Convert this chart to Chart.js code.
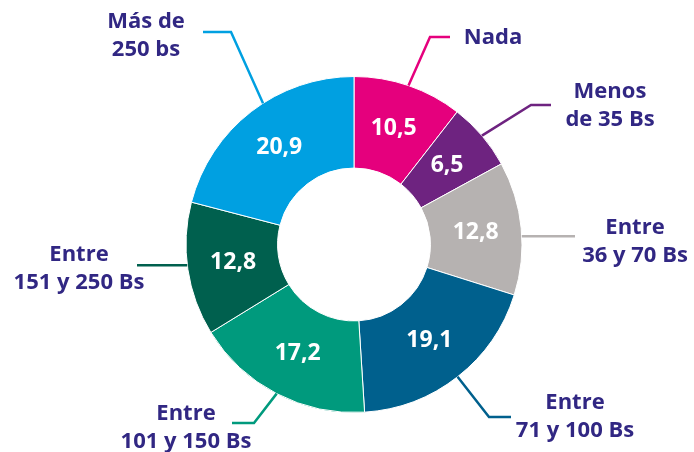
<!DOCTYPE html>
<html>
<head>
<meta charset="utf-8">
<script src="https://cdn.jsdelivr.net/npm/chart.js@4/dist/chart.umd.min.js"></script>
<style>
  html, body { margin: 0; padding: 0; background: #fff; }
  #wrap { width: 694px; height: 452px; }
</style>
</head>
<body>
<div id="wrap"><canvas id="chart" width="694" height="452"></canvas></div>
<script>
// datos del gráfico
const categories = [
  ['Nada'],
  ['Menos', 'de 35 Bs'],
  ['Entre', '36 y 70 Bs'],
  ['Entre', '71 y 100 Bs'],
  ['Entre', '101 y 150 Bs'],
  ['Entre', '151 y 250 Bs'],
  ['Más de', '250 bs']
];
const values = [10.5, 6.5, 12.8, 19.1, 17.2, 12.8, 20.9];
const colors = ['#e5007d', '#6e2380', '#b6b2b1', '#00608d', '#009a7d', '#00604e', '#00a0e1'];

// posiciones de las etiquetas y líneas guía
const labelPos = [
  { x: 493, y: 38 },
  { x: 610, y: 92 },
  { x: 635, y: 228 },
  { x: 575, y: 403 },
  { x: 186, y: 414 },
  { x: 79, y: 255 },
  { x: 146, y: 22 }
];
const leaders = [
  { frac: 0.5, elbow: [430, 37], end: [450, 37] },
  { frac: 0.5, elbow: [531, 105], end: [551, 105] },
  { frac: 0.56, elbow: null, end: [575, null] },
  { frac: 0.5, elbow: [489, 417], end: [511, 417] },
  { frac: 0.5, elbow: [254, 423], end: [232, 423] },
  { frac: 0.53, elbow: null, end: [137, null] },
  { frac: 0.565, elbow: [231, 32], end: [203, 32] }
];

const fmt = v => v.toFixed(1).replace('.', ',');

const labelsPlugin = {
  id: 'labelsPlugin',
  afterDatasetsDraw(chart) {
    const ctx = chart.ctx;
    const arcs = chart.getDatasetMeta(0).data;
    ctx.save();
    arcs.forEach((arc, i) => {
      const { x, y, startAngle, endAngle, innerRadius, outerRadius } = arc.getProps(
        ['x', 'y', 'startAngle', 'endAngle', 'innerRadius', 'outerRadius'], true);
      // valor dentro del segmento
      const mid = (startAngle + endAngle) / 2;
      const r = (innerRadius + outerRadius) / 2;
      ctx.fillStyle = '#ffffff';
      ctx.font = 'bold 23px "Open Sans"';
      ctx.textAlign = 'center';
      ctx.textBaseline = 'middle';
      ctx.fillText(fmt(values[i]), x + Math.cos(mid) * r, y + Math.sin(mid) * r);

      // línea guía
      const ld = leaders[i];
      const a = startAngle + (endAngle - startAngle) * ld.frac;
      const sx = x + Math.cos(a) * outerRadius;
      const sy = y + Math.sin(a) * outerRadius;
      ctx.strokeStyle = colors[i];
      ctx.lineWidth = 2.5;
      ctx.beginPath();
      ctx.moveTo(sx, sy);
      if (ld.elbow) ctx.lineTo(ld.elbow[0], ld.elbow[1]);
      ctx.lineTo(ld.end[0], ld.end[1] === null ? sy : ld.end[1]);
      ctx.stroke();

      // etiqueta de categoría
      ctx.fillStyle = '#312783';
      ctx.font = 'bold 22px "Open Sans"';
      categories[i].forEach((line, k) => {
        ctx.fillText(line, labelPos[i].x, labelPos[i].y + k * 28);
      });
    });
    ctx.restore();
  }
};

new Chart(document.getElementById('chart'), {
  type: 'doughnut',
  data: {
    labels: categories.map(c => c.join(' ')),
    datasets: [{
      data: values,
      backgroundColor: colors,
      borderColor: '#ffffff',
      borderWidth: 1
    }]
  },
  options: {
    responsive: false,
    animation: false,
    radius: 168,
    cutout: '45.5%',
    layout: { padding: { left: 14, right: 0, top: 37, bottom: 0 } },
    plugins: {
      legend: { display: false },
      tooltip: { enabled: false }
    }
  },
  plugins: [labelsPlugin]
});
</script>
</body>
</html>
